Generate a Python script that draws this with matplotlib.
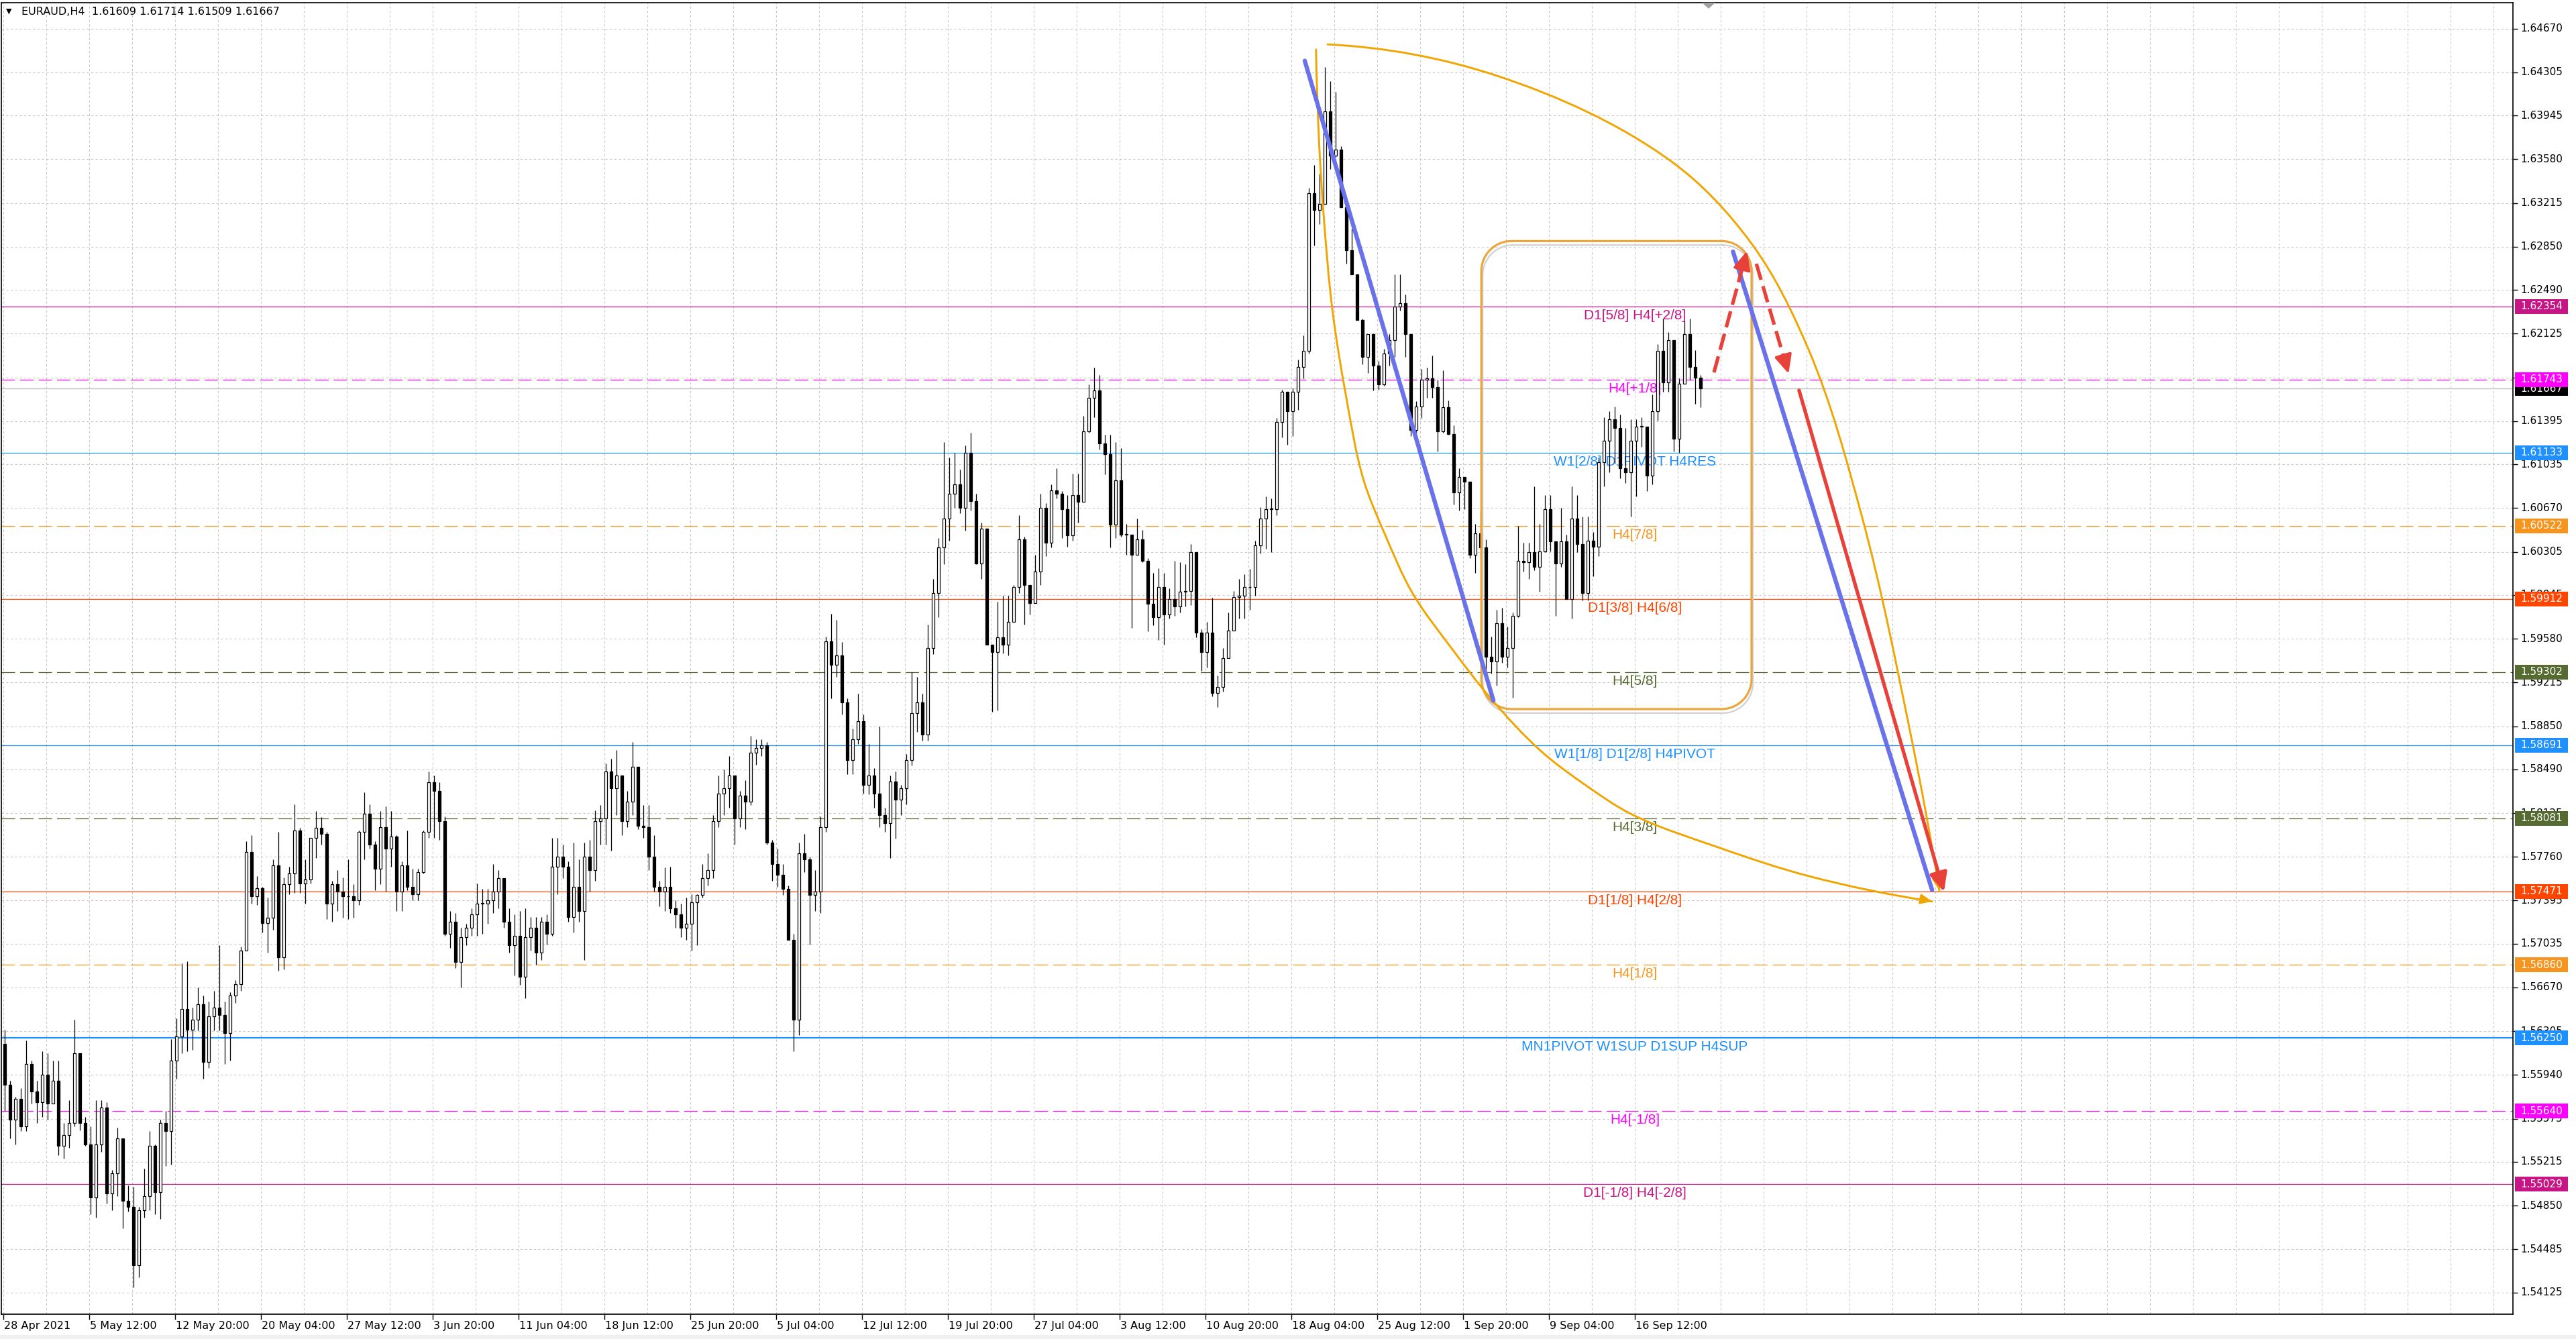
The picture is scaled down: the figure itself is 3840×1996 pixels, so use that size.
import numpy as np
import matplotlib
matplotlib.use("Agg")
import matplotlib.pyplot as plt
import matplotlib.transforms as mtransforms
from matplotlib.patches import Rectangle, PathPatch, Polygon
from matplotlib.path import Path

# ---- price data: one candle per two H4 bars ----
first_open = 1.5620
closes = [
    1.5586, 1.5557, 1.5574, 1.5551, 1.5603, 1.5580, 1.5571, 1.5594,
    1.5570, 1.5589, 1.5535, 1.5544, 1.5554, 1.5612, 1.5554, 1.5536,
    1.5492, 1.5536, 1.5567, 1.5495, 1.5512, 1.5541, 1.5489, 1.5484,
    1.5435, 1.5481, 1.5493, 1.5535, 1.5496, 1.5554, 1.5547, 1.5606,
    1.5626, 1.5649, 1.5632, 1.5640, 1.5653, 1.5605, 1.5643, 1.5650,
    1.5644, 1.5629, 1.5660, 1.5670, 1.5698, 1.5780, 1.5743, 1.5750,
    1.5721, 1.5725, 1.5769, 1.5692, 1.5753, 1.5762, 1.5798, 1.5754,
    1.5757, 1.5792, 1.5800, 1.5795, 1.5737, 1.5753, 1.5747, 1.5743,
    1.5743, 1.5740, 1.5797, 1.5812, 1.5786, 1.5766, 1.5801, 1.5783,
    1.5793, 1.5747, 1.5769, 1.5751, 1.5745, 1.5763, 1.5797, 1.5838,
    1.5831, 1.5806, 1.5712, 1.5722, 1.5688, 1.5709, 1.5717, 1.5728,
    1.5737, 1.5737, 1.5740, 1.5747, 1.5758, 1.5722, 1.5702, 1.5710,
    1.5676, 1.5709, 1.5717, 1.5696, 1.5722, 1.5712, 1.5768, 1.5776,
    1.5768, 1.5726, 1.5751, 1.5731, 1.5776, 1.5765, 1.5806, 1.5808,
    1.5847, 1.5833, 1.5844, 1.5806, 1.5822, 1.5851, 1.5802, 1.5801,
    1.5776, 1.5751, 1.5747, 1.5751, 1.5733, 1.5728, 1.5717, 1.5720,
    1.5738, 1.5744, 1.5758, 1.5765, 1.5806, 1.5829, 1.5833, 1.5844,
    1.5808, 1.5827, 1.5822, 1.5863, 1.5867, 1.5869, 1.5788, 1.5770,
    1.5761, 1.5749, 1.5707, 1.5640, 1.5779, 1.5774, 1.5744, 1.5747,
    1.5801, 1.5956, 1.5936, 1.5944, 1.5905, 1.5857, 1.5874, 1.5889,
    1.5836, 1.5844, 1.5829, 1.5811, 1.5804, 1.5839, 1.5824, 1.5833,
    1.5857, 1.5896, 1.5905, 1.5878, 1.5950, 1.5996, 1.6034, 1.6058,
    1.6079, 1.6087, 1.6067, 1.6113, 1.6073, 1.6021, 1.6050, 1.5953,
    1.5947, 1.5959, 1.5953, 1.5972, 1.6001, 1.6041, 1.6003, 1.5988,
    1.6014, 1.6067, 1.6038, 1.6082, 1.6079, 1.6066, 1.6044, 1.6078,
    1.6072, 1.6131, 1.6159, 1.6165, 1.6121, 1.6112, 1.6053, 1.6090,
    1.6045, 1.6045, 1.6028, 1.6041, 1.6023, 1.5987, 1.5976, 1.6001,
    1.5978, 1.5991, 1.5985, 1.5997, 1.5998, 1.6030, 1.5963, 1.5947,
    1.5963, 1.5913, 1.5918, 1.5942, 1.5965, 1.5993, 1.5994, 1.6001,
    1.6001, 1.6036, 1.6058, 1.6066, 1.6066, 1.6139, 1.6164, 1.6148,
    1.6164, 1.6185, 1.6198, 1.6330, 1.6316, 1.6321, 1.6398, 1.6361,
    1.6366, 1.6318, 1.6282, 1.6262, 1.6224, 1.6193, 1.6212, 1.6186,
    1.6170, 1.6196, 1.6207, 1.6235, 1.6238, 1.6212, 1.6132, 1.6152,
    1.6174, 1.6175, 1.6168, 1.6131, 1.6151, 1.6129, 1.6080, 1.6093,
    1.6089, 1.6028, 1.6046, 1.6034, 1.5943, 1.5939, 1.5971, 1.5943,
    1.5950, 1.5977, 1.6023, 1.6022, 1.6030, 1.6018, 1.6031, 1.6066,
    1.6039, 1.6021, 1.6039, 1.5991, 1.6058, 1.6037, 1.5996, 1.6040,
    1.6035, 1.6105, 1.6123, 1.6141, 1.6134, 1.6100, 1.6097, 1.6123,
    1.6135, 1.6135, 1.6094, 1.6148, 1.6198, 1.6172, 1.6207, 1.6125,
    1.6171, 1.6212, 1.6185, 1.6176, 1.61667]
highs = [
    1.5632, 1.5589, 1.5576, 1.5583, 1.5623, 1.5606, 1.5589, 1.5614,
    1.5612, 1.5606, 1.5606, 1.5554, 1.5573, 1.5640, 1.5612, 1.5559,
    1.5551, 1.5573, 1.5573, 1.5571, 1.5515, 1.5550, 1.5530, 1.5502,
    1.5501, 1.5484, 1.5516, 1.5547, 1.5536, 1.5557, 1.5564, 1.5624,
    1.5641, 1.5687, 1.5689, 1.5650, 1.5667, 1.5660, 1.5655, 1.5664,
    1.5702, 1.5655, 1.5663, 1.5673, 1.5701, 1.5789, 1.5794, 1.5760,
    1.5751, 1.5742, 1.5774, 1.5797, 1.5759, 1.5768, 1.5820, 1.5800,
    1.5774, 1.5792, 1.5814, 1.5809, 1.5797, 1.5756, 1.5765, 1.5759,
    1.5774, 1.5753, 1.5798, 1.5830, 1.5820, 1.5789, 1.5814, 1.5818,
    1.5814, 1.5794, 1.5772, 1.5798, 1.5766, 1.5766, 1.5798, 1.5847,
    1.5844, 1.5838, 1.5810, 1.5731, 1.5729, 1.5717, 1.5720, 1.5733,
    1.5754, 1.5749, 1.5749, 1.5770, 1.5765, 1.5751, 1.5733, 1.5728,
    1.5731, 1.5733, 1.5726, 1.5726, 1.5726, 1.5728, 1.5792, 1.5792,
    1.5786, 1.5772, 1.5788, 1.5774, 1.5788, 1.5790, 1.5815, 1.5819,
    1.5854, 1.5858, 1.5865, 1.5836, 1.5831, 1.5872, 1.5849, 1.5819,
    1.5819, 1.5794, 1.5756, 1.5767, 1.5768, 1.5740, 1.5737, 1.5742,
    1.5745, 1.5745, 1.5770, 1.5779, 1.5811, 1.5844, 1.5849, 1.5860,
    1.5844, 1.5831, 1.5840, 1.5877, 1.5874, 1.5874, 1.5872, 1.5790,
    1.5783, 1.5770, 1.5752, 1.5712, 1.5788, 1.5795, 1.5776, 1.5765,
    1.5810, 1.5960, 1.5979, 1.5974, 1.5955, 1.5908, 1.5883, 1.5912,
    1.5895, 1.5870, 1.5850, 1.5885, 1.5817, 1.5844, 1.5847, 1.5836,
    1.5862, 1.5930, 1.5926, 1.5912, 1.5970, 1.6008, 1.6042, 1.6122,
    1.6109, 1.6113, 1.6099, 1.6119, 1.6130, 1.6079, 1.6055, 1.6034,
    1.5953, 1.5989, 1.5994, 1.5994, 1.6003, 1.6061, 1.6043, 1.5994,
    1.6028, 1.6079, 1.6071, 1.6087, 1.6100, 1.6081, 1.6078, 1.6096,
    1.6096, 1.6144, 1.6170, 1.6184, 1.6178, 1.6128, 1.6128, 1.6122,
    1.6117, 1.6054, 1.6038, 1.6058, 1.6049, 1.6025, 1.6013, 1.6017,
    1.6013, 1.6000, 1.6023, 1.6022, 1.6020, 1.6037, 1.6030, 1.5966,
    1.5972, 1.5992, 1.5927, 1.5950, 1.5980, 1.5998, 1.6008, 1.6012,
    1.6016, 1.6040, 1.6068, 1.6077, 1.6075, 1.6142, 1.6166, 1.6157,
    1.6167, 1.6191, 1.6211, 1.6334, 1.6353, 1.6346, 1.6435, 1.6423,
    1.6414, 1.6369, 1.6318, 1.6300, 1.6262, 1.6225, 1.6212, 1.6213,
    1.6190, 1.6200, 1.6212, 1.6262, 1.6262, 1.6245, 1.6212, 1.6156,
    1.6183, 1.6184, 1.6194, 1.6174, 1.6182, 1.6157, 1.6136, 1.6100,
    1.6092, 1.6064, 1.6054, 1.6064, 1.6041, 1.5960, 1.5982, 1.5984,
    1.5968, 1.5980, 1.6052, 1.6038, 1.6038, 1.6085, 1.6054, 1.6078,
    1.6078, 1.6039, 1.6067, 1.6045, 1.6085, 1.6078, 1.6060, 1.6060,
    1.6047, 1.6109, 1.6143, 1.6148, 1.6152, 1.6145, 1.6134, 1.6141,
    1.6141, 1.6143, 1.6132, 1.6162, 1.6204, 1.6225, 1.6214, 1.6172,
    1.6175, 1.6223, 1.6225, 1.6199, 1.6178]
lows = [
    1.5564, 1.5541, 1.5536, 1.5547, 1.5547, 1.5570, 1.5554, 1.5559,
    1.5557, 1.5570, 1.5527, 1.5524, 1.5533, 1.5551, 1.5548, 1.5535,
    1.5478, 1.5475, 1.5530, 1.5487, 1.5481, 1.5493, 1.5466, 1.5480,
    1.5417, 1.5425, 1.5475, 1.5481, 1.5478, 1.5474, 1.5518, 1.5519,
    1.5591, 1.5612, 1.5614, 1.5615, 1.5631, 1.5591, 1.5600, 1.5631,
    1.5631, 1.5603, 1.5606, 1.5654, 1.5664, 1.5708, 1.5737, 1.5736,
    1.5713, 1.5696, 1.5715, 1.5681, 1.5682, 1.5745, 1.5746, 1.5746,
    1.5737, 1.5754, 1.5775, 1.5786, 1.5724, 1.5722, 1.5731, 1.5725,
    1.5724, 1.5725, 1.5736, 1.5774, 1.5783, 1.5748, 1.5753, 1.5747,
    1.5768, 1.5731, 1.5731, 1.5748, 1.5740, 1.5740, 1.5762, 1.5792,
    1.5792, 1.5790, 1.5710, 1.5700, 1.5683, 1.5667, 1.5702, 1.5710,
    1.5710, 1.5712, 1.5720, 1.5729, 1.5733, 1.5717, 1.5696, 1.5677,
    1.5669, 1.5658, 1.5698, 1.5686, 1.5690, 1.5703, 1.5710, 1.5745,
    1.5758, 1.5722, 1.5713, 1.5722, 1.5690, 1.5747, 1.5756, 1.5786,
    1.5786, 1.5781, 1.5811, 1.5794, 1.5801, 1.5811, 1.5799, 1.5792,
    1.5765, 1.5747, 1.5735, 1.5731, 1.5729, 1.5717, 1.5709, 1.5707,
    1.5698, 1.5702, 1.5742, 1.5752, 1.5758, 1.5801, 1.5811, 1.5817,
    1.5786, 1.5801, 1.5799, 1.5819, 1.5853, 1.5860, 1.5786, 1.5756,
    1.5751, 1.5744, 1.5707, 1.5614, 1.5627, 1.5763, 1.5703, 1.5731,
    1.5729, 1.5797, 1.5908, 1.5926, 1.5895, 1.5845, 1.5845, 1.5870,
    1.5829, 1.5828, 1.5817, 1.5801, 1.5797, 1.5775, 1.5791, 1.5811,
    1.5820, 1.5852, 1.5880, 1.5873, 1.5873, 1.5945, 1.5976, 1.6020,
    1.6040, 1.6067, 1.6063, 1.6048, 1.6065, 1.6020, 1.6008, 1.5953,
    1.5897, 1.5898, 1.5946, 1.5944, 1.5978, 1.5996, 1.5970, 1.5978,
    1.5988, 1.6003, 1.6027, 1.6034, 1.6075, 1.6042, 1.6035, 1.6040,
    1.6055, 1.6074, 1.6130, 1.6143, 1.6116, 1.6095, 1.6034, 1.6042,
    1.6043, 1.6028, 1.5967, 1.6028, 1.6022, 1.5964, 1.5969, 1.5957,
    1.5953, 1.5975, 1.5977, 1.5980, 1.5985, 1.5986, 1.5959, 1.5931,
    1.5934, 1.5910, 1.5901, 1.5914, 1.5949, 1.5965, 1.5975, 1.5975,
    1.5982, 1.5994, 1.6029, 1.6033, 1.6030, 1.6061, 1.6126, 1.6120,
    1.6127, 1.6149, 1.6175, 1.6196, 1.6286, 1.6304, 1.6331, 1.6350,
    1.6360, 1.6318, 1.6271, 1.6262, 1.6224, 1.6187, 1.6180, 1.6165,
    1.6166, 1.6169, 1.6186, 1.6193, 1.6232, 1.6193, 1.6127, 1.6122,
    1.6142, 1.6159, 1.6159, 1.6114, 1.6130, 1.6128, 1.6070, 1.6065,
    1.6066, 1.6025, 1.6013, 1.6024, 1.5930, 1.5929, 1.5919, 1.5938,
    1.5934, 1.5909, 1.5976, 1.6014, 1.6008, 1.6015, 1.5997, 1.6030,
    1.6031, 1.5977, 1.6018, 1.5991, 1.5975, 1.6030, 1.5990, 1.5990,
    1.6010, 1.6027, 1.6085, 1.6097, 1.6104, 1.6092, 1.6088, 1.6060,
    1.6077, 1.6118, 1.6081, 1.6087, 1.6140, 1.6164, 1.6164, 1.6114,
    1.6113, 1.6171, 1.6174, 1.6154, 1.6151]

price_ticks = [1.64670, 1.64305, 1.63945, 1.63580, 1.63215, 1.62850, 1.62490,
               1.62125, 1.61760, 1.61395, 1.61035, 1.60670, 1.60305, 1.59945,
               1.59580, 1.59215, 1.58850, 1.58490, 1.58125, 1.57760, 1.57395,
               1.57035, 1.56670, 1.56305, 1.55940, 1.55575, 1.55215, 1.54850,
               1.54485, 1.54125]
time_labels = ["28 Apr 2021", "5 May 12:00", "12 May 20:00", "20 May 04:00",
               "27 May 12:00", "3 Jun 20:00", "11 Jun 04:00", "18 Jun 12:00",
               "25 Jun 20:00", "5 Jul 04:00", "12 Jul 12:00", "19 Jul 20:00",
               "27 Jul 04:00", "3 Aug 12:00", "10 Aug 20:00", "18 Aug 04:00",
               "25 Aug 12:00", "1 Sep 20:00", "9 Sep 04:00", "16 Sep 12:00"]
bars_per_label = 32

level_prices = [1.62354, 1.61743, 1.61133, 1.60522, 1.59912, 1.59302, 1.58691,
                1.58081, 1.57471, 1.56860, 1.56250, 1.55640, 1.55029]
level_names = ["D1[5/8] H4[+2/8]", "H4[+1/8]", "W1[2/8] D1PIVOT H4RES", "H4[7/8]",
               "D1[3/8] H4[6/8]", "H4[5/8]", "W1[1/8] D1[2/8] H4PIVOT", "H4[3/8]",
               "D1[1/8] H4[2/8]", "H4[1/8]", "MN1PIVOT W1SUP D1SUP H4SUP",
               "H4[-1/8]", "D1[-1/8] H4[-2/8]"]
bid_price = 1.61667
title_text = "EURAUD,H4  1.61609 1.61714 1.61509 1.61667"

# hand drawn objects, anchor points as (bar index, price)
trend_lines = [((485.0, 1.64402), (555.3, 1.59064)),
               ((644.6, 1.62810), (718.8, 1.57482))]
box_corners = ((550.8, 1.62898), (651.5, 1.58993))
arc_outer = [(493.5, 1.64539), (556.5, 1.64278), (621.4, 1.63566), (651.4, 1.62880),
             (672.8, 1.61990), (692.4, 1.60619), (710.8, 1.58782), (721.5, 1.57480)]
arc_inner = [(489.2, 1.64496), (490.3, 1.63740), (492.0, 1.63126), (495.3, 1.62323),
             (500.3, 1.61615), (506.9, 1.60906), (515.2, 1.60434), (525.1, 1.59962),
             (540.1, 1.59489), (555.0, 1.59064), (573.2, 1.58639), (589.8, 1.58356),
             (606.4, 1.58120), (639.5, 1.57836), (672.7, 1.57600), (718.8, 1.57388)]
red_dashed = [((637.5, 1.61802), (649.8, 1.62815)),
              ((653.3, 1.62708), (665.3, 1.61792))]
red_solid = ((669.2, 1.61653), (723.2, 1.57468))

# ---- styles ----
VIOLET, MAGENTA, BLUE = '#c71585', '#ff00ff', '#1e90ff'
ORANGE, ORED, OLIVE = '#f7941d', '#ff4500', '#556b2f'
level_style = [(VIOLET, False), (MAGENTA, True), (BLUE, False), (ORANGE, True),
               (ORED, False), (OLIVE, True), (BLUE, False), (OLIVE, True),
               (ORED, False), (ORANGE, True), (BLUE, False), (MAGENTA, True),
               (VIOLET, False)]

plt.rcParams['font.family'] = ['DejaVu Sans']

W, H = 3840, 1996
fig = plt.figure(figsize=(W / 100, H / 100), dpi=100)
fig.patch.set_facecolor('white')
ax_l, ax_r, ax_t, ax_b = 2, 3746, 4, 1959
ax = fig.add_axes([ax_l / W, 1 - ax_b / H, (ax_r - ax_l) / W, (ax_b - ax_t) / H])
ax.set_xlim(-0.75, 935.25)
ax.set_ylim(1.53944, 1.64887)
for s in ax.spines.values():
    s.set_color('black')
    s.set_linewidth(1.2)
# pixel size of one bar and of one price unit, used to keep curves round on screen
PX_BAR = (ax_r - ax_l) / 936.0
PX_PRICE = (ax_b - ax_t) / (1.64887 - 1.53944)

# grid and ticks
major_x = np.arange(len(time_labels)) * bars_per_label
all_x = np.arange(0, 936, 16)
ax.set_xticks(major_x)
ax.set_xticks([v for v in all_x if v not in set(major_x)], minor=True)
ax.set_yticks(price_ticks)
ax.tick_params(axis='x', which='major', length=6, width=1, direction='out', labelbottom=False)
ax.tick_params(axis='x', which='minor', length=0, labelbottom=False)
ax.tick_params(axis='y', left=False, right=True, length=5, width=1, labelleft=False, labelright=False)
ax.grid(True, which='both', color='#c8c8c8', linestyle=(0, (3, 3)), linewidth=0.8)
ax.set_axisbelow(True)

# horizontal levels
off_text = mtransforms.offset_copy(ax.transData, fig=fig, x=0, y=-4, units='dots')
for p, name, (col, dashed) in zip(level_prices, level_names, level_style):
    lw = 1.6 if p == 1.56250 else 0.9
    ls = (0, (16, 6)) if dashed else '-'
    ax.axhline(p, color=col, lw=lw, ls=ls, zorder=1)
    ax.text(608, p, name, transform=off_text, ha='center', va='top', color=col,
            fontsize=15, family=['Liberation Sans', 'DejaVu Sans'], zorder=1.5)
ax.axhline(bid_price, color='#c0c0c0', lw=1.0, zorder=1)

# candles
n = min(len(closes), len(highs), len(lows))
c = np.array(closes[:n])
o = np.r_[first_open, c[:-1]]
h = np.maximum(np.array(highs[:n]), np.maximum(o, c))
l = np.minimum(np.array(lows[:n]), np.minimum(o, c))
x = np.arange(n) * 2 + 0.5
ax.vlines(x, l, h, color='black', lw=0.9, zorder=3)
up = c >= o
bot = np.minimum(o, c)
hgt = np.maximum(np.abs(c - o), 0.00004)
ax.bar(x[up], hgt[up], bottom=bot[up], width=1.2, color='white',
       edgecolor='black', linewidth=0.9, zorder=4)
ax.bar(x[~up], hgt[~up], bottom=bot[~up], width=1.2, color='black',
       edgecolor='black', linewidth=0.9, zorder=4)

# drawn objects
BLUE_LINE, GOLD, RED = '#6a72ea', '#f0a500', '#e8413a'
for (x0, y0), (x1, y1) in trend_lines:
    ax.plot([x0, x1], [y0, y1], color=BLUE_LINE, lw=4.6, solid_capstyle='round', zorder=6)

(bl, bt), (br, bb) = box_corners
rx, ry = 11.2, 0.00252
def corner(cx, cy, a0, a1):
    t = np.radians(np.linspace(a0, a1, 24))
    return np.c_[cx + rx * np.cos(t), cy + ry * np.sin(t)]
pts = np.vstack([corner(br - rx, bt - ry, 90, 0), corner(br - rx, bb + ry, 0, -90),
                 corner(bl + rx, bb + ry, -90, -180), corner(bl + rx, bt - ry, 180, 90)])
pts = np.vstack([pts, pts[:1]])
shadow = mtransforms.offset_copy(ax.transData, fig=fig, x=2, y=-6, units='dots')
ax.plot(pts[:, 0], pts[:, 1], color='#d0d0d0', lw=1.6, zorder=4.9, transform=shadow)
ax.plot(pts[:, 0], pts[:, 1], color='#eaa63a', lw=2.3, zorder=5, solid_joinstyle='round')

def unit(v):
    return v / np.hypot(*v)

def smooth_path(points):
    # cubic spline through the anchors, chord weighted tangents in pixel space
    S = np.array([PX_BAR, PX_PRICE])
    P = np.array(points, dtype=float) * S
    m = len(P)
    tang = np.zeros_like(P)
    for i in range(1, m - 1):
        tang[i] = unit(unit(P[i] - P[i - 1]) + unit(P[i + 1] - P[i]))
    tang[0] = unit(2 * unit(P[1] - P[0]) - tang[1])
    tang[-1] = unit(2 * unit(P[-1] - P[-2]) - tang[-2])
    verts, codes = [P[0]], [Path.MOVETO]
    for i in range(m - 1):
        seg = np.hypot(*(P[i + 1] - P[i])) / 3.0
        verts += [P[i] + tang[i] * seg, P[i + 1] - tang[i + 1] * seg, P[i + 1]]
        codes += [Path.CURVE4] * 3
    return Path(np.array(verts) / S, codes)

for arc in (arc_outer, arc_inner):
    ax.add_patch(PathPatch(smooth_path(arc), fill=False, ec=GOLD, lw=2.1,
                           zorder=5, capstyle='round'))
    P = np.array(arc)
    ax.annotate('', xy=P[-1], xytext=P[-1] - 0.06 * (P[-1] - P[-2]),
                arrowprops=dict(arrowstyle='-|>,head_length=0.7,head_width=0.3',
                                color=GOLD, lw=1.5, mutation_scale=16,
                                shrinkA=0, shrinkB=0), zorder=5)

for (x0, y0), (x1, y1) in red_dashed:
    xe, ye = x0 + 0.84 * (x1 - x0), y0 + 0.84 * (y1 - y0)
    ax.plot([x0, xe], [y0, ye], color=RED, lw=3.8, ls=(0, (4.7, 1.9)), zorder=7)
    ax.annotate('', xy=(x1, y1), xytext=(xe, ye),
                arrowprops=dict(arrowstyle='-|>,head_length=0.6,head_width=0.28',
                                color=RED, lw=3.0, mutation_scale=28,
                                shrinkA=0, shrinkB=0), zorder=7)
(x0, y0), (x1, y1) = red_solid
ax.annotate('', xy=(x1, y1), xytext=(x0, y0),
            arrowprops=dict(arrowstyle='-|>,head_length=0.6,head_width=0.28',
                            color=RED, lw=3.8, mutation_scale=28,
                            shrinkA=0, shrinkB=0), zorder=7)

# price axis labels
ytr = mtransforms.blended_transform_factory(ax.transAxes, ax.transData)
px_w = ax_r - ax_l
lab_x = (3757 - ax_l) / px_w
box_x = (3749 - ax_l) / px_w
box_w = 79 / px_w
box_h = 22 * 5.597e-5
for p in price_ticks:
    ax.text(lab_x, p, f"{p:.5f}", transform=ytr, ha='left', va='center',
            fontsize=11, color='black', clip_on=False, zorder=10)
ax.add_patch(Rectangle((box_x, bid_price - box_h / 2), box_w, box_h, transform=ytr,
                       fc='black', ec='none', clip_on=False, zorder=10.5))
ax.text(lab_x, bid_price, f"{bid_price:.5f}", transform=ytr, ha='left', va='center',
        fontsize=11, color='white', clip_on=False, zorder=10.6)
for p, (col, _) in zip(level_prices, level_style):
    ax.add_patch(Rectangle((box_x, p - box_h / 2), box_w, box_h, transform=ytr,
                           fc=col, ec='none', clip_on=False, zorder=11))
    ax.text(lab_x, p, f"{p:.5f}", transform=ytr, ha='left', va='center',
            fontsize=11, color='white', clip_on=False, zorder=12)

# time axis labels
xtr = mtransforms.blended_transform_factory(ax.transData, ax.transAxes)
for i, lab in enumerate(time_labels):
    ax.text(i * bars_per_label + 0.3, -10 / (ax_b - ax_t), lab, transform=xtr,
            ha='left', va='top', fontsize=11.5, clip_on=False)

# chart shift marker and title
ax.add_patch(Polygon([(633.0, 1.0), (638.0, 1.0), (635.5, 0.9955)], closed=True,
                     transform=xtr, fc='#a0a0a0', ec='none', clip_on=False, zorder=8))
fig.text(9 / W, 1 - 17 / H, '\u25bc', fontsize=8, va='center', ha='left')
fig.text(32 / W, 1 - 17 / H, title_text, fontsize=11.5, va='center', ha='left')
fig.patches.append(Rectangle((0, 0), 1, 6 / H, transform=fig.transFigure,
                             fc='#f0f0f0', ec='none'))

fig.savefig('out.png', dpi=100)
